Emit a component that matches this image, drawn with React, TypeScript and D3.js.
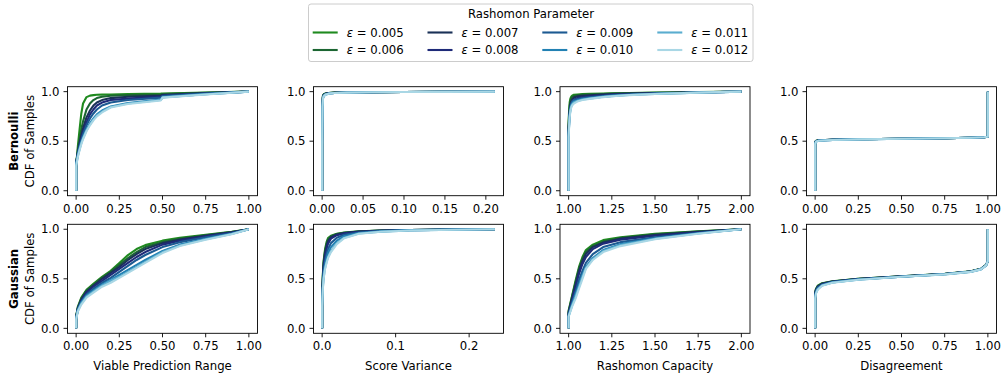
import React from "react";
import * as d3 from "d3";

// ---------- data ----------
const epsilons = [0.005, 0.006, 0.007, 0.008, 0.009, 0.01, 0.011, 0.012];
const epsLabels = ["0.005", "0.006", "0.007", "0.008", "0.009", "0.010", "0.011", "0.012"];
const colors = ["#1f8a1f", "#1c6632", "#1a3157", "#1e2a78", "#1c5a92", "#2281b3", "#5aadcf", "#a9d7e5"];

const rowNames = ["Bernoulli", "Gaussian"];
const xLabels = ["Viable Prediction Range", "Score Variance", "Rashomon Capacity", "Disagreement"];
const yTicks = [0, 0.5, 1];
const unitTicks = [0, 0.25, 0.5, 0.75, 1];
const capTicks = [1, 1.25, 1.5, 1.75, 2];
const bVarTicks = [0, 0.05, 0.1, 0.15, 0.2];
const gVarTicks = [0, 0.1, 0.2];

// Bernoulli – Viable Prediction Range
const bVprX = [0, 0, 0.01, 0.02, 0.03, 0.04, 0.06, 0.08, 0.1, 0.12, 0.15, 0.2, 0.3, 0.49, 0.5, 0.75, 1];
const bVprY = [
  [0, 0.25, 0.45, 0.62, 0.78, 0.88, 0.945, 0.96, 0.965, 0.968, 0.97, 0.972, 0.975, 0.98, 0.982, 0.99, 1],
  [0, 0.27, 0.41, 0.52, 0.62, 0.7, 0.82, 0.88, 0.915, 0.935, 0.948, 0.958, 0.965, 0.972, 0.976, 0.988, 1],
  [0, 0.28, 0.39, 0.48, 0.56, 0.63, 0.74, 0.81, 0.86, 0.89, 0.915, 0.935, 0.948, 0.96, 0.965, 0.985, 1],
  [0, 0.28, 0.38, 0.46, 0.53, 0.59, 0.69, 0.77, 0.82, 0.86, 0.89, 0.915, 0.93, 0.95, 0.96, 0.982, 1],
  [0, 0.28, 0.37, 0.45, 0.51, 0.57, 0.66, 0.73, 0.78, 0.82, 0.86, 0.89, 0.915, 0.94, 0.955, 0.98, 1],
  [0, 0.27, 0.36, 0.43, 0.49, 0.54, 0.62, 0.68, 0.73, 0.77, 0.81, 0.85, 0.885, 0.92, 0.945, 0.975, 1],
  [0, 0.26, 0.35, 0.42, 0.48, 0.53, 0.61, 0.67, 0.72, 0.76, 0.8, 0.845, 0.88, 0.915, 0.942, 0.974, 1],
  [0, 0.25, 0.34, 0.41, 0.47, 0.52, 0.6, 0.66, 0.71, 0.75, 0.79, 0.84, 0.875, 0.91, 0.94, 0.972, 1],
];

// Bernoulli – Score Variance
const bVarX = [0, 0, 0.0005, 0.001, 0.002, 0.004, 0.008, 0.015, 0.03, 0.06, 0.1, 0.15, 0.211];
const bVarY = [
  [0, 0.5, 0.9, 0.96, 0.975, 0.982, 0.987, 0.99, 0.993, 0.995, 0.997, 0.998, 1],
  [0, 0.5, 0.89, 0.955, 0.972, 0.98, 0.986, 0.99, 0.993, 0.995, 0.997, 0.998, 1],
  [0, 0.49, 0.88, 0.95, 0.97, 0.978, 0.985, 0.989, 0.992, 0.995, 0.997, 0.998, 1],
  [0, 0.48, 0.87, 0.945, 0.966, 0.976, 0.984, 0.988, 0.992, 0.994, 0.996, 0.998, 1],
  [0, 0.47, 0.86, 0.94, 0.962, 0.974, 0.982, 0.987, 0.991, 0.994, 0.996, 0.998, 1],
  [0, 0.46, 0.86, 0.935, 0.958, 0.972, 0.981, 0.987, 0.991, 0.994, 0.996, 0.998, 1],
  [0, 0.45, 0.85, 0.93, 0.955, 0.97, 0.98, 0.986, 0.99, 0.994, 0.996, 0.998, 1],
  [0, 0.45, 0.85, 0.93, 0.955, 0.97, 0.98, 0.986, 0.99, 0.994, 0.996, 0.998, 1],
];

// Bernoulli – Rashomon Capacity
const bCapX = [1, 1, 1.003, 1.006, 1.01, 1.015, 1.02, 1.03, 1.05, 1.08, 1.12, 1.2, 1.25, 1.35, 1.5, 1.75, 2];
const bCapY = [
  [0, 0.7, 0.82, 0.89, 0.93, 0.95, 0.96, 0.968, 0.972, 0.975, 0.978, 0.982, 0.984, 0.987, 0.99, 0.995, 1],
  [0, 0.66, 0.78, 0.85, 0.9, 0.93, 0.945, 0.955, 0.963, 0.968, 0.972, 0.977, 0.98, 0.984, 0.988, 0.994, 1],
  [0, 0.62, 0.74, 0.81, 0.87, 0.9, 0.92, 0.94, 0.952, 0.958, 0.963, 0.97, 0.975, 0.98, 0.986, 0.993, 1],
  [0, 0.6, 0.72, 0.79, 0.84, 0.88, 0.9, 0.92, 0.935, 0.945, 0.952, 0.962, 0.968, 0.976, 0.984, 0.992, 1],
  [0, 0.58, 0.7, 0.78, 0.84, 0.88, 0.9, 0.915, 0.925, 0.935, 0.943, 0.955, 0.962, 0.972, 0.982, 0.991, 1],
  [0, 0.56, 0.68, 0.76, 0.82, 0.86, 0.88, 0.9, 0.912, 0.925, 0.935, 0.95, 0.957, 0.968, 0.979, 0.99, 1],
  [0, 0.55, 0.67, 0.75, 0.81, 0.85, 0.87, 0.89, 0.905, 0.92, 0.93, 0.948, 0.955, 0.967, 0.978, 0.99, 1],
  [0, 0.54, 0.66, 0.74, 0.8, 0.84, 0.86, 0.88, 0.9, 0.915, 0.927, 0.945, 0.953, 0.965, 0.976, 0.99, 1],
];

// Bernoulli – Disagreement
const bDisX = [0, 0, 0.005, 0.02, 0.1, 0.25, 0.5, 0.75, 0.9, 0.98, 0.995, 1, 1];
const bDisY = [
  [0, 0.49, 0.505, 0.51, 0.515, 0.52, 0.525, 0.53, 0.535, 0.54, 0.545, 0.55, 1],
  [0, 0.49, 0.503, 0.51, 0.515, 0.52, 0.525, 0.53, 0.535, 0.54, 0.545, 0.55, 1],
  [0, 0.485, 0.502, 0.509, 0.514, 0.52, 0.525, 0.53, 0.535, 0.54, 0.545, 0.55, 1],
  [0, 0.48, 0.5, 0.508, 0.514, 0.519, 0.525, 0.53, 0.535, 0.54, 0.545, 0.55, 1],
  [0, 0.48, 0.5, 0.507, 0.513, 0.519, 0.524, 0.53, 0.535, 0.54, 0.545, 0.55, 1],
  [0, 0.475, 0.498, 0.506, 0.513, 0.518, 0.524, 0.53, 0.535, 0.54, 0.545, 0.55, 1],
  [0, 0.47, 0.496, 0.505, 0.512, 0.518, 0.524, 0.53, 0.535, 0.54, 0.545, 0.55, 1],
  [0, 0.47, 0.495, 0.505, 0.512, 0.518, 0.524, 0.53, 0.535, 0.54, 0.545, 0.55, 1],
];

// Gaussian – Viable Prediction Range
const gVprX = [0, 0, 0.01, 0.03, 0.06, 0.1, 0.15, 0.2, 0.25, 0.3, 0.35, 0.4, 0.5, 0.6, 0.75, 0.9, 1];
const gVprY = [
  [0, 0.12, 0.22, 0.31, 0.39, 0.45, 0.52, 0.58, 0.66, 0.74, 0.8, 0.84, 0.885, 0.915, 0.945, 0.975, 1],
  [0, 0.12, 0.21, 0.3, 0.38, 0.44, 0.51, 0.57, 0.64, 0.71, 0.77, 0.82, 0.87, 0.905, 0.94, 0.972, 1],
  [0, 0.11, 0.2, 0.29, 0.37, 0.43, 0.5, 0.56, 0.62, 0.69, 0.75, 0.8, 0.86, 0.895, 0.935, 0.97, 1],
  [0, 0.11, 0.2, 0.28, 0.36, 0.42, 0.48, 0.54, 0.6, 0.66, 0.72, 0.77, 0.845, 0.885, 0.93, 0.967, 1],
  [0, 0.1, 0.19, 0.27, 0.34, 0.4, 0.46, 0.51, 0.57, 0.63, 0.69, 0.74, 0.82, 0.87, 0.92, 0.96, 1],
  [0, 0.1, 0.18, 0.26, 0.33, 0.38, 0.44, 0.49, 0.54, 0.59, 0.64, 0.69, 0.78, 0.845, 0.905, 0.955, 1],
  [0, 0.1, 0.18, 0.25, 0.32, 0.37, 0.43, 0.48, 0.52, 0.57, 0.62, 0.67, 0.77, 0.835, 0.9, 0.952, 1],
  [0, 0.09, 0.17, 0.24, 0.31, 0.36, 0.42, 0.46, 0.51, 0.56, 0.61, 0.66, 0.76, 0.83, 0.895, 0.95, 1],
];

// Gaussian – Score Variance
const gVarX = [0, 0, 0.001, 0.002, 0.004, 0.006, 0.008, 0.012, 0.02, 0.03, 0.05, 0.08, 0.12, 0.18, 0.235];
const gVarY = [
  [0, 0.3, 0.55, 0.68, 0.8, 0.87, 0.91, 0.935, 0.955, 0.967, 0.979, 0.987, 0.993, 0.997, 1],
  [0, 0.29, 0.53, 0.66, 0.78, 0.85, 0.895, 0.928, 0.952, 0.965, 0.978, 0.987, 0.993, 0.997, 1],
  [0, 0.28, 0.51, 0.64, 0.76, 0.83, 0.88, 0.92, 0.948, 0.962, 0.976, 0.986, 0.992, 0.997, 1],
  [0, 0.27, 0.49, 0.61, 0.73, 0.8, 0.855, 0.905, 0.94, 0.958, 0.974, 0.985, 0.992, 0.996, 1],
  [0, 0.25, 0.46, 0.57, 0.68, 0.75, 0.8, 0.86, 0.915, 0.945, 0.968, 0.982, 0.991, 0.996, 1],
  [0, 0.24, 0.43, 0.54, 0.64, 0.71, 0.76, 0.82, 0.885, 0.93, 0.962, 0.979, 0.99, 0.996, 1],
  [0, 0.23, 0.41, 0.51, 0.61, 0.67, 0.72, 0.78, 0.86, 0.915, 0.957, 0.976, 0.989, 0.995, 1],
  [0, 0.22, 0.4, 0.5, 0.6, 0.66, 0.71, 0.77, 0.85, 0.91, 0.955, 0.975, 0.988, 0.995, 1],
];

// Gaussian – Rashomon Capacity
const gCapX = [1, 1, 1.02, 1.04, 1.06, 1.08, 1.1, 1.14, 1.2, 1.3, 1.5, 1.75, 2];
const gCapY = [
  [0, 0.18, 0.33, 0.48, 0.62, 0.72, 0.79, 0.845, 0.89, 0.92, 0.955, 0.98, 1],
  [0, 0.17, 0.32, 0.46, 0.6, 0.7, 0.77, 0.83, 0.875, 0.912, 0.948, 0.977, 1],
  [0, 0.16, 0.3, 0.44, 0.58, 0.68, 0.75, 0.82, 0.865, 0.905, 0.942, 0.974, 1],
  [0, 0.15, 0.29, 0.42, 0.55, 0.65, 0.72, 0.8, 0.855, 0.895, 0.935, 0.97, 1],
  [0, 0.14, 0.26, 0.37, 0.49, 0.58, 0.66, 0.75, 0.82, 0.87, 0.92, 0.963, 1],
  [0, 0.13, 0.24, 0.34, 0.44, 0.54, 0.62, 0.71, 0.79, 0.85, 0.91, 0.96, 1],
  [0, 0.12, 0.23, 0.32, 0.42, 0.52, 0.61, 0.7, 0.78, 0.84, 0.905, 0.957, 1],
  [0, 0.12, 0.22, 0.3, 0.4, 0.5, 0.6, 0.69, 0.77, 0.83, 0.9, 0.955, 1],
];

// Gaussian – Disagreement
const gDisX = [0, 0, 0.005, 0.015, 0.04, 0.1, 0.25, 0.5, 0.75, 0.9, 0.96, 0.99, 1, 1];
const gDisY = [
  [0, 0.36, 0.4, 0.43, 0.455, 0.475, 0.5, 0.525, 0.55, 0.575, 0.6, 0.64, 0.68, 1],
  [0, 0.355, 0.395, 0.425, 0.452, 0.473, 0.499, 0.524, 0.549, 0.574, 0.6, 0.64, 0.68, 1],
  [0, 0.35, 0.39, 0.42, 0.45, 0.472, 0.498, 0.524, 0.549, 0.574, 0.599, 0.639, 0.68, 1],
  [0, 0.34, 0.385, 0.415, 0.445, 0.47, 0.497, 0.523, 0.548, 0.573, 0.598, 0.638, 0.68, 1],
  [0, 0.33, 0.375, 0.41, 0.44, 0.467, 0.495, 0.522, 0.547, 0.572, 0.597, 0.637, 0.68, 1],
  [0, 0.32, 0.365, 0.4, 0.435, 0.464, 0.493, 0.521, 0.546, 0.571, 0.596, 0.636, 0.68, 1],
  [0, 0.31, 0.355, 0.395, 0.432, 0.462, 0.491, 0.52, 0.545, 0.57, 0.595, 0.635, 0.68, 1],
  [0, 0.3, 0.35, 0.39, 0.43, 0.46, 0.49, 0.52, 0.545, 0.57, 0.595, 0.635, 0.68, 1],
];

// ---------- layout ----------
const W = 1001;
const H = 375;
const colLeft = [67.5, 313.5, 560, 806.5];
const rowTop = [86.7, 224.3];
const PW = 190;
const PH = 109;
const FONT = "DejaVu Sans, sans-serif";
const FS = 11.7;

type Panel = { x: number[]; ys: number[][]; ticks: number[]; fmt: string };

const grid: Panel[][] = [
  [
    { x: bVprX, ys: bVprY, ticks: unitTicks, fmt: ".2f" },
    { x: bVarX, ys: bVarY, ticks: bVarTicks, fmt: ".2f" },
    { x: bCapX, ys: bCapY, ticks: capTicks, fmt: ".2f" },
    { x: bDisX, ys: bDisY, ticks: unitTicks, fmt: ".2f" },
  ],
  [
    { x: gVprX, ys: gVprY, ticks: unitTicks, fmt: ".2f" },
    { x: gVarX, ys: gVarY, ticks: gVarTicks, fmt: ".1f" },
    { x: gCapX, ys: gCapY, ticks: capTicks, fmt: ".2f" },
    { x: gDisX, ys: gDisY, ticks: unitTicks, fmt: ".2f" },
  ],
];

function PanelView({ p, left, top, xlabel }: { p: Panel; left: number; top: number; xlabel?: string }) {
  const [x0, x1] = d3.extent(p.x) as [number, number];
  const padX = (x1 - x0) * 0.05;
  const xs = d3.scaleLinear().domain([x0 - padX, x1 + padX]).range([left, left + PW]);
  const ysc = d3.scaleLinear().domain([-0.05, 1.05]).range([top + PH, top]);
  const fmt = d3.format(p.fmt);
  const line = d3
    .line<[number, number]>()
    .x((d) => xs(d[0]))
    .y((d) => ysc(d[1]));
  return (
    <g>
      {p.ys.map((row, i) => (
        <path
          key={i}
          d={line(row.map((v, j) => [p.x[j], v] as [number, number])) || ""}
          fill="none"
          stroke={colors[i]}
          strokeWidth={2.1}
          strokeLinejoin="round"
          strokeLinecap="butt"
        />
      ))}
      <rect x={left} y={top} width={PW} height={PH} fill="none" stroke="#000" strokeWidth={0.9} />
      {p.ticks.map((t) => (
        <g key={"x" + t}>
          <line x1={xs(t)} x2={xs(t)} y1={top + PH} y2={top + PH + 4} stroke="#000" strokeWidth={0.9} />
          <text x={xs(t)} y={top + PH + 8} dy="0.76em" textAnchor="middle" fontFamily={FONT} fontSize={FS} fill="#000">
            {fmt(t)}
          </text>
        </g>
      ))}
      {yTicks.map((t) => (
        <g key={"y" + t}>
          <line x1={left - 4} x2={left} y1={ysc(t)} y2={ysc(t)} stroke="#000" strokeWidth={0.9} />
          <text x={left - 8} y={ysc(t)} dy="0.36em" textAnchor="end" fontFamily={FONT} fontSize={FS} fill="#000">
            {d3.format(".1f")(t)}
          </text>
        </g>
      ))}
      {xlabel && (
        <text x={left + PW / 2} y={top + PH + 37} textAnchor="middle" fontFamily={FONT} fontSize={FS} fill="#000">
          {xlabel}
        </text>
      )}
    </g>
  );
}

function Legend() {
  const colX = [312.7, 427.5, 542.3, 657.3];
  const rowY = [32.5, 50];
  return (
    <g>
      <rect x={308.5} y={4} width={444.5} height={57.5} rx={2.5} fill="#fff" stroke="#cccccc" strokeWidth={1} />
      <text x={531} y={14} dy="0.36em" textAnchor="middle" fontFamily={FONT} fontSize={FS} fill="#000">
        Rashomon Parameter
      </text>
      {epsilons.map((e, i) => {
        const c = Math.floor(i / 2);
        const r = i % 2;
        const y = rowY[r];
        return (
          <g key={e}>
            <line x1={colX[c]} x2={colX[c] + 25} y1={y} y2={y} stroke={colors[i]} strokeWidth={2.1} />
            <text x={colX[c] + 34} y={y} dy="0.36em" fontFamily={FONT} fontSize={FS} fill="#000">
              <tspan fontStyle="italic">ε</tspan>
              {" = " + epsLabels[i]}
            </text>
          </g>
        );
      })}
    </g>
  );
}

export default function App() {
  return (
    <svg
      width={W}
      height={H}
      viewBox={`0 0 ${W} ${H}`}
      style={{ position: "absolute", left: 0, top: 0, background: "#fff" }}
    >
      <rect x={0} y={0} width={W} height={H} fill="#fff" />
      {grid.map((row, r) =>
        row.map((p, c) => (
          <PanelView key={r + "-" + c} p={p} left={colLeft[c]} top={rowTop[r]} xlabel={r === 1 ? xLabels[c] : undefined} />
        ))
      )}
      {rowNames.map((name, r) => {
        const cy = rowTop[r] + PH / 2;
        return (
          <g key={name}>
            <text
              transform={`translate(14,${cy}) rotate(-90)`}
              textAnchor="middle"
              dy="0.36em"
              fontFamily={FONT}
              fontSize={FS}
              fontWeight="bold"
              fill="#000"
            >
              {name}
            </text>
            <text
              transform={`translate(29.5,${cy}) rotate(-90)`}
              textAnchor="middle"
              dy="0.36em"
              fontFamily={FONT}
              fontSize={FS}
              fill="#000"
            >
              CDF of Samples
            </text>
          </g>
        );
      })}
      <Legend />
    </svg>
  );
}
